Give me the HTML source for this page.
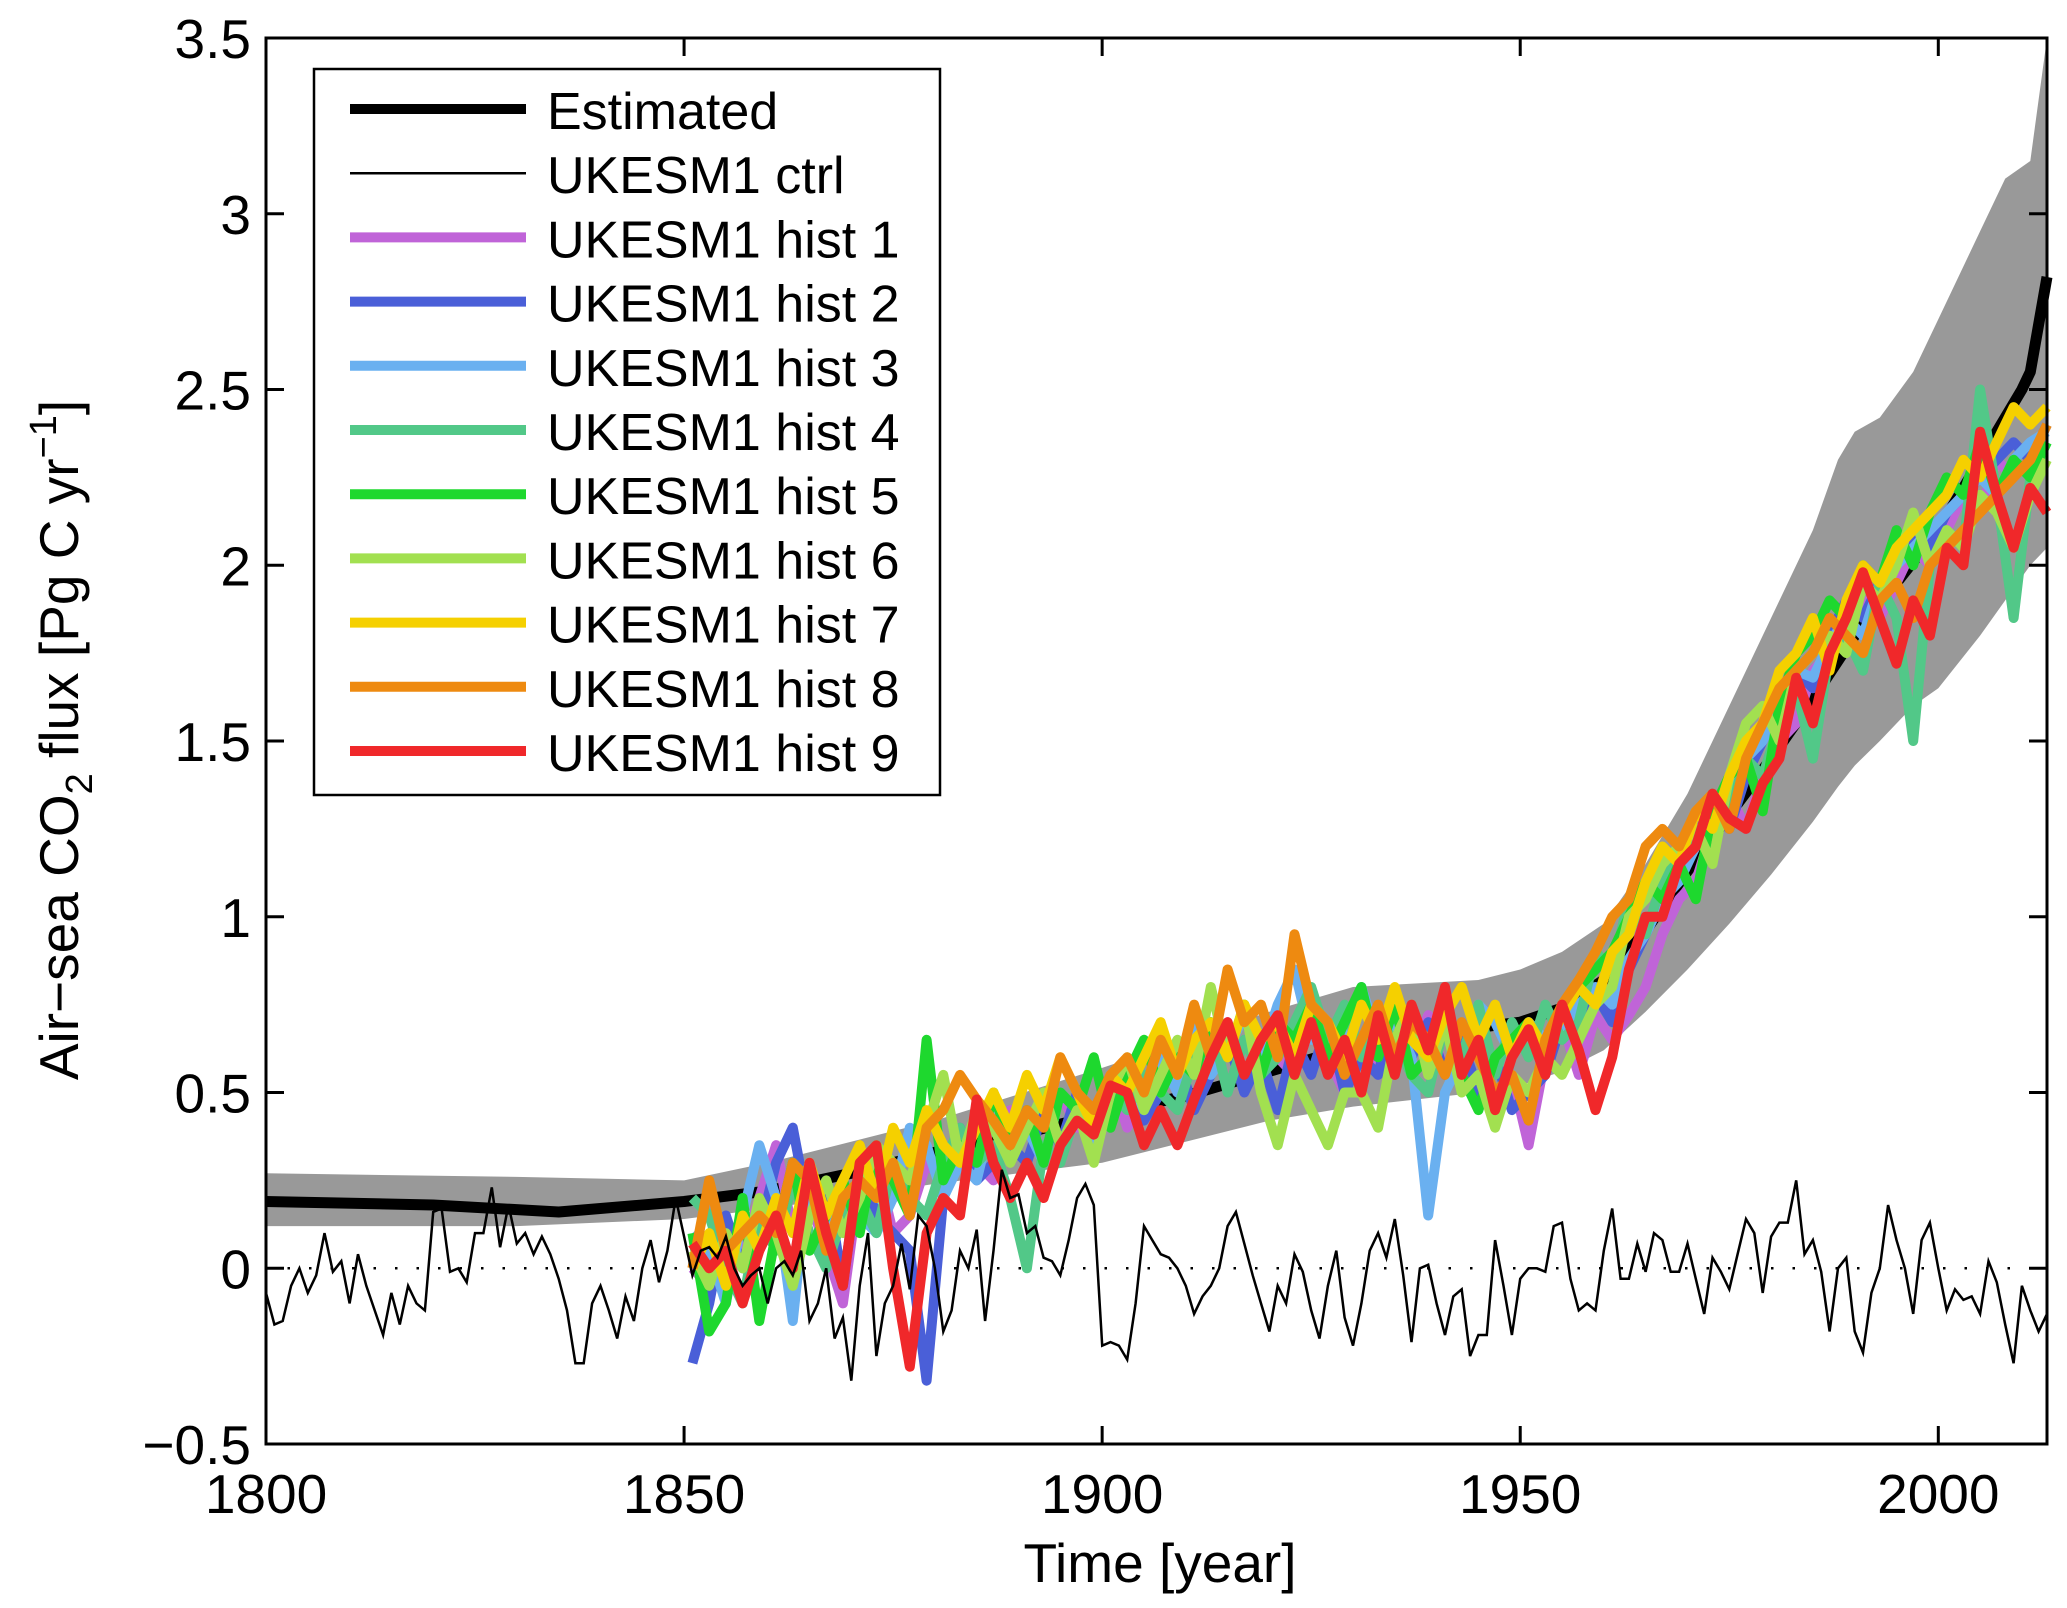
<!DOCTYPE html>
<html><head><meta charset="utf-8"><style>
html,body{margin:0;padding:0;background:#fff;}
svg{display:block;font-family:"Liberation Sans",Arial,sans-serif;}
</style></head><body>
<svg id="chart" width="2067" height="1608" viewBox="0 0 2067 1608" xmlns="http://www.w3.org/2000/svg">
<g id="plot"></g>
<g id="axes"></g>
<text x="1160" y="1582" font-size="55" text-anchor="middle">Time [year]</text>
<text transform="translate(78,740) rotate(-90)" font-size="55" text-anchor="middle">Air−sea CO<tspan font-size="38" dy="14">2</tspan><tspan dy="-14"> flux [Pg C yr</tspan><tspan font-size="38" dy="-22">−1</tspan><tspan dy="22">]</tspan></text>
<g id="legend"></g>
</svg>
<script>
const estYears=[1800,1820,1835,1850,1860,1870,1880,1890,1900,1910,1920,1930,1940,1950,1955,1960,1965,1970,1975,1980,1985,1990,1995,2000,2005,2008,2010,2011,2013];
const estValues=[0.19,0.18,0.16,0.19,0.22,0.27,0.33,0.38,0.44,0.49,0.56,0.63,0.67,0.70,0.74,0.82,0.96,1.13,1.29,1.45,1.62,1.80,1.95,2.10,2.30,2.42,2.50,2.55,2.82];
const bandYears=[1800,1830,1850,1860,1880,1900,1920,1930,1945,1950,1955,1960,1965,1970,1975,1980,1985,1988,1990,1993,1997,2000,2005,2008,2011,2013];
const bandUpper=[0.27,0.26,0.25,0.30,0.42,0.57,0.73,0.80,0.82,0.85,0.90,0.98,1.15,1.35,1.60,1.85,2.10,2.30,2.38,2.42,2.55,2.70,2.95,3.10,3.15,3.50];
const bandLower=[0.12,0.12,0.14,0.17,0.24,0.30,0.42,0.46,0.50,0.52,0.56,0.62,0.73,0.85,0.98,1.12,1.27,1.37,1.43,1.50,1.60,1.65,1.80,1.90,2.00,2.05];
const ctrlStart=1800;
const ctrlValues=[-0.07,-0.16,-0.15,-0.05,0.0,-0.07,-0.02,0.1,-0.01,0.02,
-0.1,0.04,-0.05,-0.12,-0.19,-0.07,-0.16,-0.05,-0.1,-0.12,
0.16,0.17,-0.01,0.0,-0.04,0.1,0.1,0.23,0.06,0.18,
0.07,0.1,0.04,0.09,0.04,-0.03,-0.12,-0.27,-0.27,-0.1,
-0.05,-0.12,-0.2,-0.08,-0.15,0.0,0.08,-0.04,0.05,0.2,
0.09,-0.02,0.05,0.06,0.03,0.09,0.0,-0.05,-0.02,0.0,
-0.1,0.0,0.02,-0.02,0.05,-0.15,-0.1,0.0,-0.2,-0.14,
-0.32,-0.05,0.1,-0.25,-0.1,-0.05,0.07,-0.06,0.15,0.12,
0.0,-0.18,-0.12,0.05,0.0,0.11,-0.15,0.05,0.28,0.2,
0.21,0.1,0.12,0.03,0.02,-0.02,0.08,0.2,0.24,0.18,
-0.22,-0.21,-0.22,-0.26,-0.1,0.12,0.08,0.04,0.03,0.0,
-0.05,-0.13,-0.08,-0.05,0.0,0.12,0.16,0.07,-0.02,-0.1,
-0.18,-0.05,-0.1,0.04,-0.01,-0.12,-0.2,-0.05,0.05,-0.14,
-0.22,-0.1,0.05,0.1,0.03,0.14,-0.02,-0.21,0.0,0.01,
-0.1,-0.19,-0.08,-0.06,-0.25,-0.19,-0.19,0.08,-0.05,-0.19,
-0.03,0.0,0.0,-0.01,0.12,0.13,-0.03,-0.12,-0.1,-0.12,
0.05,0.17,-0.03,-0.03,0.07,-0.01,0.1,0.08,-0.01,-0.01,
0.07,-0.03,-0.13,0.03,-0.01,-0.06,0.04,0.14,0.1,-0.07,
0.09,0.13,0.13,0.25,0.04,0.08,-0.01,-0.18,0.0,0.03,
-0.18,-0.24,-0.07,0.0,0.18,0.08,0.0,-0.13,0.08,0.13,
0.0,-0.12,-0.06,-0.09,-0.08,-0.13,0.02,-0.04,-0.16,-0.27,
-0.05,-0.12,-0.18,-0.13];
const histStart=1851, histStep=2;
const hist1=[0.0,-0.05,0.1,0.05,0.2,0.35,0.1,0.2,0.05,-0.1,0.25,0.3,0.1,0.15,0.3,0.25,0.4,0.3,0.25,0.45,0.4,0.3,0.5,0.4,0.45,0.55,0.4,0.5,0.6,0.5,0.65,0.55,0.7,0.5,0.65,0.6,0.55,0.7,0.6,0.5,0.65,0.55,0.7,0.6,0.72,0.55,0.65,0.5,0.45,0.55,0.35,0.6,0.7,0.55,0.72,0.65,0.72,0.8,0.95,1.05,1.1,1.25,1.35,1.25,1.4,1.5,1.55,1.7,1.75,1.85,1.9,1.85,1.95,2.05,2.0,2.1,2.2,2.15,2.3,2.25,2.3,2.35];
const hist2=[-0.27,-0.1,0.15,0.0,0.1,0.3,0.4,0.15,0.25,-0.05,0.3,0.15,0.1,0.05,-0.32,0.2,0.4,0.25,0.3,0.35,0.3,0.45,0.35,0.5,0.4,0.45,0.55,0.42,0.5,0.6,0.45,0.55,0.65,0.5,0.6,0.45,0.65,0.55,0.7,0.5,0.6,0.55,0.75,0.6,0.7,0.55,0.65,0.5,0.6,0.45,0.5,0.55,0.7,0.65,0.78,0.7,0.85,0.95,1.05,1.15,1.2,1.3,1.25,1.4,1.5,1.6,1.7,1.65,1.8,1.9,1.85,1.95,2.0,2.1,2.05,2.15,2.2,2.25,2.3,2.35,2.3,2.4];
const hist3=[0.1,0.05,-0.1,0.15,0.35,0.2,-0.15,0.3,0.1,0.2,0.15,0.1,0.2,0.4,0.35,0.2,0.3,0.25,0.45,0.35,0.4,0.3,0.5,0.45,0.35,0.5,0.55,0.45,0.6,0.5,0.7,0.55,0.62,0.72,0.6,0.75,0.85,0.65,0.7,0.6,0.8,0.65,0.7,0.6,0.15,0.5,0.6,0.75,0.7,0.6,0.7,0.65,0.68,0.75,0.8,0.75,0.88,0.95,1.05,1.1,1.2,1.28,1.32,1.45,1.5,1.6,1.7,1.68,1.78,1.85,1.8,1.95,2.0,2.05,2.1,2.15,2.2,2.25,2.2,2.3,2.35,2.38];
const hist4=[0.2,0.15,0.0,-0.1,0.15,0.05,0.25,0.1,0.0,0.15,0.2,0.1,0.3,0.2,0.15,0.3,0.4,0.3,0.35,0.2,0.0,0.35,0.3,0.45,0.4,0.5,0.45,0.55,0.5,0.45,0.6,0.7,0.5,0.65,0.55,0.6,0.7,0.8,0.65,0.75,0.6,0.7,0.65,0.55,0.5,0.7,0.6,0.75,0.55,0.7,0.6,0.75,0.65,0.7,0.9,0.85,1.05,0.95,1.1,1.2,1.2,1.35,1.3,1.45,1.4,1.55,1.65,1.45,1.75,1.8,1.7,1.95,1.85,1.5,2.0,2.1,2.05,2.5,2.2,1.85,2.25,2.3];
const hist5=[0.1,-0.18,-0.1,0.2,-0.15,0.1,0.3,0.05,0.15,0.25,0.1,0.35,0.25,0.15,0.65,0.25,0.35,0.3,0.5,0.35,0.45,0.3,0.5,0.45,0.6,0.4,0.55,0.65,0.5,0.6,0.55,0.7,0.6,0.75,0.55,0.7,0.65,0.75,0.6,0.7,0.8,0.6,0.75,0.55,0.6,0.7,0.55,0.45,0.6,0.65,0.7,0.6,0.75,0.8,0.85,0.9,1.0,1.1,1.05,1.15,1.05,1.3,1.4,1.45,1.3,1.6,1.75,1.8,1.9,1.85,2.0,1.95,2.1,2.0,2.15,2.25,2.2,2.35,2.2,2.3,2.25,2.35];
const hist6=[0.05,-0.05,0.1,0.0,0.2,0.1,-0.05,0.15,0.25,0.1,0.2,0.35,0.3,0.25,0.4,0.55,0.3,0.45,0.4,0.3,0.4,0.5,0.35,0.45,0.3,0.5,0.6,0.45,0.55,0.65,0.55,0.8,0.6,0.75,0.5,0.35,0.55,0.45,0.35,0.5,0.5,0.4,0.65,0.75,0.55,0.7,0.5,0.55,0.4,0.55,0.5,0.6,0.55,0.65,0.75,0.8,1.0,1.05,1.15,1.2,1.25,1.15,1.4,1.55,1.6,1.5,1.7,1.75,1.8,1.75,1.95,1.9,2.0,2.15,2.0,2.1,2.05,2.2,2.15,2.05,2.2,2.3];
const hist7=[0.0,0.1,-0.05,0.15,0.05,0.2,0.1,0.3,0.15,0.25,0.35,0.2,0.4,0.3,0.45,0.35,0.3,0.4,0.5,0.4,0.55,0.45,0.6,0.5,0.4,0.55,0.5,0.6,0.7,0.55,0.65,0.7,0.6,0.75,0.65,0.7,0.6,0.75,0.7,0.6,0.75,0.65,0.8,0.65,0.6,0.72,0.8,0.65,0.75,0.6,0.7,0.62,0.72,0.8,0.75,0.9,0.95,1.1,1.2,1.15,1.3,1.25,1.4,1.5,1.55,1.7,1.75,1.85,1.7,1.9,2.0,1.95,2.05,2.1,2.15,2.2,2.3,2.25,2.35,2.45,2.4,2.45];
const hist8=[0.0,0.25,0.05,0.1,0.15,0.1,0.3,0.25,0.05,0.2,0.25,0.2,0.3,0.15,0.4,0.45,0.55,0.48,0.42,0.35,0.45,0.4,0.6,0.5,0.45,0.55,0.6,0.5,0.65,0.55,0.75,0.6,0.85,0.7,0.75,0.6,0.95,0.75,0.7,0.55,0.65,0.75,0.6,0.7,0.65,0.55,0.7,0.6,0.5,0.55,0.42,0.65,0.75,0.82,0.9,1.0,1.05,1.2,1.25,1.2,1.3,1.35,1.25,1.45,1.55,1.65,1.7,1.75,1.85,1.8,1.75,1.9,1.95,1.85,2.0,2.05,2.1,2.15,2.2,2.25,2.3,2.4];
const hist9=[0.07,0.0,0.05,-0.1,0.05,0.15,0.0,0.3,0.1,-0.05,0.3,0.35,0.0,-0.28,0.1,0.2,0.15,0.48,0.3,0.2,0.3,0.2,0.35,0.42,0.38,0.52,0.5,0.35,0.45,0.35,0.48,0.6,0.7,0.55,0.65,0.72,0.55,0.7,0.55,0.65,0.5,0.72,0.55,0.75,0.62,0.8,0.55,0.65,0.45,0.6,0.68,0.55,0.75,0.62,0.45,0.6,0.85,1.0,1.0,1.15,1.2,1.35,1.28,1.25,1.38,1.45,1.68,1.55,1.75,1.85,1.98,1.85,1.72,1.9,1.8,2.05,2.0,2.38,2.2,2.05,2.22,2.15];
const histSeries=[hist1,hist2,hist3,hist4,hist5,hist6,hist7,hist8,hist9];
const histColors=["#c064d8","#4a5fd8","#6ab0f0","#52c888","#1ed82e","#a2e050","#f5d000","#ee8a10","#f0282a"];
const yTicks=[-0.5,0,0.5,1,1.5,2,2.5,3,3.5];
const yTickLabels=["−0.5","0","0.5","1","1.5","2","2.5","3","3.5"];
const xTicks=[1800,1850,1900,1950,2000];
const legendLabels=["Estimated","UKESM1 ctrl","UKESM1 hist 1","UKESM1 hist 2","UKESM1 hist 3","UKESM1 hist 4","UKESM1 hist 5","UKESM1 hist 6","UKESM1 hist 7","UKESM1 hist 8","UKESM1 hist 9"];

const L=266,R=2047,T=38,B=1444,X0=1800,X1=2013,Y0=-0.5,Y1=3.5;
const sx=v=>L+(v-X0)*(R-L)/(X1-X0);
const sy=v=>B-(v-Y0)*(B-T)/(Y1-Y0);
const NS="http://www.w3.org/2000/svg";
function mk(tag,attrs,parent){const e=document.createElementNS(NS,tag);for(const k in attrs)e.setAttribute(k,attrs[k]);parent.appendChild(e);return e;}
const plot=document.getElementById('plot'),axes=document.getElementById('axes'),leg=document.getElementById('legend');

let d="";
bandYears.forEach((y,i)=>{d+=(i?"L":"M")+sx(y).toFixed(1)+","+sy(bandUpper[i]).toFixed(1);});
for(let i=bandYears.length-1;i>=0;i--)d+="L"+sx(bandYears[i]).toFixed(1)+","+sy(bandLower[i]).toFixed(1);
const band=mk('path',{d:d+"Z",fill:"#999999"},plot);



const zl=mk('line',{x1:L,x2:R,y1:sy(0),y2:sy(0),stroke:"#000","stroke-width":2.5,"stroke-dasharray":"2.5,19"},plot);



const est=mk('polyline',{points:estYears.map((y,i)=>sx(y).toFixed(1)+","+sy(estValues[i]).toFixed(1)).join(" "),fill:"none",stroke:"#000","stroke-width":11,"stroke-linejoin":"round"},plot);



histSeries.forEach((s,k)=>{
  const pl=mk('polyline',{points:s.map((v,i)=>sx(histStart+i*histStep).toFixed(1)+","+sy(v).toFixed(1)).join(" "),fill:"none",stroke:histColors[k],"stroke-width":10,"stroke-linejoin":"round"},plot);
  
  
});

const ctrl=mk('polyline',{points:ctrlValues.map((v,i)=>sx(ctrlStart+i).toFixed(1)+","+sy(v).toFixed(1)).join(" "),fill:"none",stroke:"#000","stroke-width":2.5,"stroke-linejoin":"miter"},plot);



const fr=mk('rect',{x:L,y:T,width:R-L,height:B-T,fill:"none",stroke:"#000","stroke-width":3},axes);


yTicks.forEach((v,i)=>{
  const y=sy(v);
  mk('line',{x1:L,x2:L+18,y1:y,y2:y,stroke:"#000","stroke-width":3},axes);
  mk('line',{x1:R,x2:R-18,y1:y,y2:y,stroke:"#000","stroke-width":3},axes);
  const t=mk('text',{x:251,y:y+20,"font-size":55,"text-anchor":"end"},axes);
  t.textContent=yTickLabels[i];
  
  
});
xTicks.forEach(v=>{
  const x=sx(v);
  mk('line',{x1:x,x2:x,y1:B,y2:B-18,stroke:"#000","stroke-width":3},axes);
  mk('line',{x1:x,x2:x,y1:T,y2:T+18,stroke:"#000","stroke-width":3},axes);
  const t=mk('text',{x:x,y:1513,"font-size":55,"text-anchor":"middle"},axes);
  t.textContent=String(v);
  
  
});

const lb=mk('rect',{x:314,y:69,width:626,height:726,fill:"#fff",stroke:"#000","stroke-width":2.5},leg);


const legColors=["#000","#000"].concat(histColors);
const legWidths=[10,2.5,10,10,10,10,10,10,10,10,10];
legendLabels.forEach((lab,i)=>{
  const y=109+i*64.2;
  const g=mk('g',{},leg);
  
  
  mk('line',{x1:350,x2:526,y1:y,y2:y,stroke:legColors[i],"stroke-width":legWidths[i]},g);
  const t=mk('text',{x:547,y:y+20,"font-size":52},g);
  t.textContent=lab;
});
</script>
</body></html>
